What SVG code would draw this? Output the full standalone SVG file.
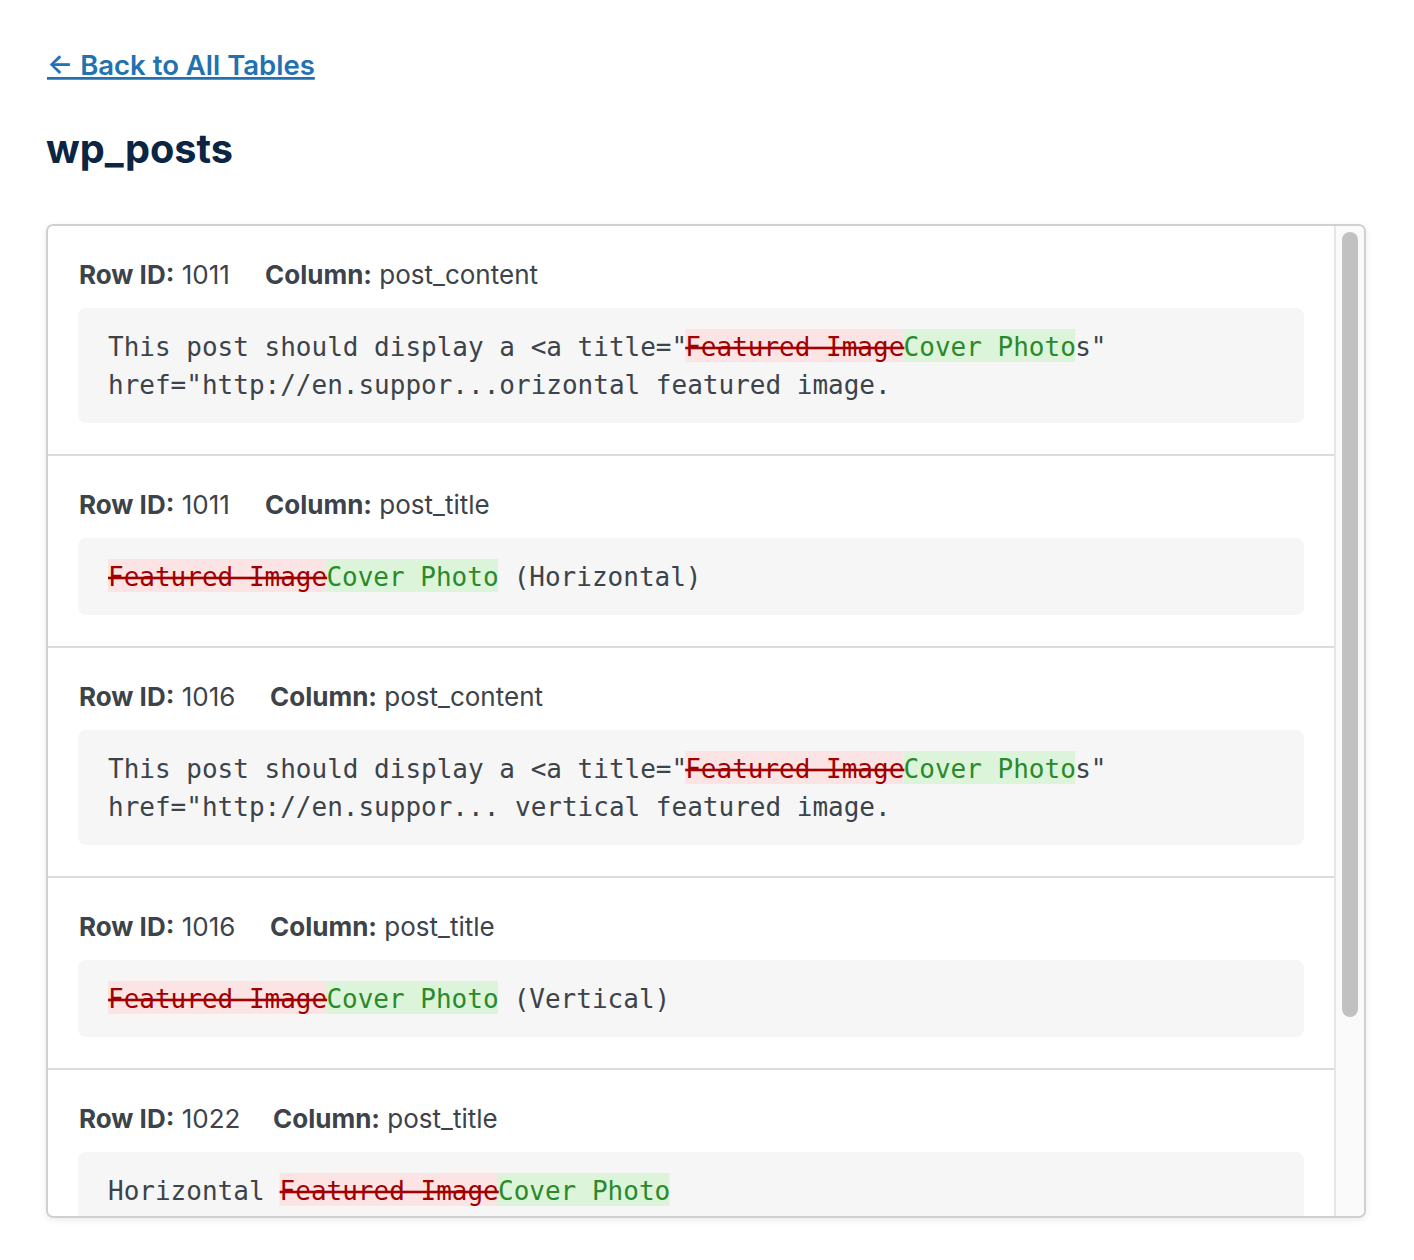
<svg xmlns="http://www.w3.org/2000/svg" width="1414" height="1260" viewBox="0 0 1414 1260">
<style>
.link{font-family:Inter,"Liberation Sans",sans-serif;font-size:27.5px;font-weight:600;fill:#2271b1;text-decoration:underline}
.title{font-family:Inter,"Liberation Sans",sans-serif;font-size:39.7px;font-weight:700;fill:#0b2542}
.hb{font-family:Inter,"Liberation Sans",sans-serif;font-size:26px;font-weight:700;fill:#3c434a}
.hr{font-family:Inter,"Liberation Sans",sans-serif;font-size:26px;font-weight:400;fill:#3c434a}
.code{font-family:"DejaVu Sans Mono","Liberation Mono",monospace;font-size:26px;fill:#3c434a}
.del{fill:#a00000;text-decoration:line-through}
.ins{fill:#2a8a2a}
.cb{fill:#f6f6f6}
.delbg{fill:#fde4e4}
.insbg{fill:#dcf4da}
.div{stroke:#dcdcde;stroke-width:2}
</style>
<defs>
<filter id="sh" x="-5%" y="-5%" width="110%" height="110%">
<feDropShadow dx="0" dy="2" stdDeviation="3" flood-color="#000" flood-opacity="0.08"/>
</filter>
<clipPath id="clip"><rect x="48" y="226" width="1316" height="990" rx="6"/></clipPath>
</defs>
<rect width="1414" height="1260" fill="#ffffff"/>
<g id="back-link"><text class="link" x="47" y="75">← Back to All Tables</text></g>
<g id="heading"><text class="title" x="46" y="163">wp_posts</text></g>
<g id="panel">
<rect x="47" y="225" width="1318" height="992" rx="6" fill="#fff" stroke="#d0d0d0" stroke-width="2" filter="url(#sh)"/>
<g clip-path="url(#clip)">
<g id="row1">
<text x="79" y="284"><tspan class="hb">Row ID:</tspan><tspan class="hr"> 1011</tspan></text>
<text x="265" y="284"><tspan class="hb">Column:</tspan><tspan class="hr"> post_content</tspan></text>
<rect class="cb" x="78" y="308" width="1226" height="115" rx="8"/>
<rect class="delbg" x="685.2" y="329" width="218.4" height="33"/>
<rect class="insbg" x="903.6" y="329" width="171.6" height="33"/>
<text class="code" x="108" y="356">This post should display a &lt;a title="</text>
<text class="code del" x="685.2" y="356">Featured Image</text>
<text class="code ins" x="903.6" y="356">Cover Photo</text>
<text class="code" x="1075.2" y="356">s"</text>
<text class="code" x="108" y="394">href="http://en.suppor...orizontal featured image.</text>
<line class="div" x1="47" y1="455" x2="1335" y2="455"/>
</g>
<g id="row2">
<text x="79" y="514"><tspan class="hb">Row ID:</tspan><tspan class="hr"> 1011</tspan></text>
<text x="265" y="514"><tspan class="hb">Column:</tspan><tspan class="hr"> post_title</tspan></text>
<rect class="cb" x="78" y="538" width="1226" height="77" rx="8"/>
<rect class="delbg" x="108" y="559" width="218.4" height="33"/>
<rect class="insbg" x="326.4" y="559" width="171.6" height="33"/>
<text class="code del" x="108" y="586">Featured Image</text>
<text class="code ins" x="326.4" y="586">Cover Photo</text>
<text class="code" x="498" y="586" xml:space="preserve"> (Horizontal)</text>
<line class="div" x1="47" y1="647" x2="1335" y2="647"/>
</g>
<g id="row3">
<text x="79" y="706"><tspan class="hb">Row ID:</tspan><tspan class="hr"> 1016</tspan></text>
<text x="270" y="706"><tspan class="hb">Column:</tspan><tspan class="hr"> post_content</tspan></text>
<rect class="cb" x="78" y="730" width="1226" height="115" rx="8"/>
<rect class="delbg" x="685.2" y="751" width="218.4" height="33"/>
<rect class="insbg" x="903.6" y="751" width="171.6" height="33"/>
<text class="code" x="108" y="778">This post should display a &lt;a title="</text>
<text class="code del" x="685.2" y="778">Featured Image</text>
<text class="code ins" x="903.6" y="778">Cover Photo</text>
<text class="code" x="1075.2" y="778">s"</text>
<text class="code" x="108" y="816">href="http://en.suppor... vertical featured image.</text>
<line class="div" x1="47" y1="877" x2="1335" y2="877"/>
</g>
<g id="row4">
<text x="79" y="936"><tspan class="hb">Row ID:</tspan><tspan class="hr"> 1016</tspan></text>
<text x="270" y="936"><tspan class="hb">Column:</tspan><tspan class="hr"> post_title</tspan></text>
<rect class="cb" x="78" y="960" width="1226" height="77" rx="8"/>
<rect class="delbg" x="108" y="981" width="218.4" height="33"/>
<rect class="insbg" x="326.4" y="981" width="171.6" height="33"/>
<text class="code del" x="108" y="1008">Featured Image</text>
<text class="code ins" x="326.4" y="1008">Cover Photo</text>
<text class="code" x="498" y="1008" xml:space="preserve"> (Vertical)</text>
<line class="div" x1="47" y1="1069" x2="1335" y2="1069"/>
</g>
<g id="row5">
<text x="79" y="1128"><tspan class="hb">Row ID:</tspan><tspan class="hr"> 1022</tspan></text>
<text x="273" y="1128"><tspan class="hb">Column:</tspan><tspan class="hr"> post_title</tspan></text>
<rect class="cb" x="78" y="1152" width="1226" height="77" rx="8"/>
<rect class="delbg" x="279.6" y="1173" width="218.4" height="33"/>
<rect class="insbg" x="498" y="1173" width="171.6" height="33"/>
<text class="code" x="108" y="1200">Horizontal</text>
<text class="code del" x="279.6" y="1200">Featured Image</text>
<text class="code ins" x="498" y="1200">Cover Photo</text>
</g>
<g id="scrollbar">
<rect x="1335" y="225" width="30" height="992" fill="#fafafa"/>
<line x1="1335" y1="225" x2="1335" y2="1217" stroke="#e6e6e6" stroke-width="2"/>
<rect x="1342" y="232" width="16" height="785" rx="8" fill="#c1c1c1"/>
</g>
</g>
</g>
</svg>
